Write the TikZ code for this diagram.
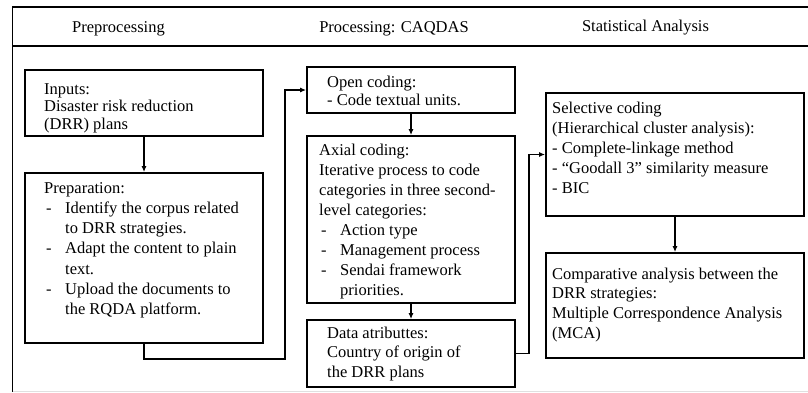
\documentclass[tikz,border=0pt]{standalone}
\usepackage{fontspec}
\setmainfont{Liberation Serif}
\usetikzlibrary{arrows.meta}

% list lines: a dash with hanging text, and continuation lines
\newcommand\dashitem[1]{\makebox[21pt][l]{\hspace*{2pt}-}#1}
\newcommand\dashcont[1]{\hspace*{21pt}#1}

\tikzset{
  stagebox/.style={draw, line width=1.8pt, inner sep=0pt, rectangle},
  boxtext/.style={anchor=north west, inner sep=0pt, align=left,
    font=\fontsize{16.5}{#1}\selectfont},
  boxtext/.default=20,
  head/.style={anchor=base, inner sep=0pt, font=\fontsize{16.5}{20}\selectfont},
  conn/.style={line width=1.5pt, -{Latex[length=6pt,width=5pt]}},
  link/.style={line width=1.5pt},
}

\begin{document}
\begin{tikzpicture}[x=1pt, y=-1pt]
\useasboundingbox (0,0) rectangle (808,392);

% outer frame with the header band
\draw[line width=1.2pt] (12.5,7) -- (808,7);
\draw[line width=2.4pt] (12.5,46) -- (808,46);
\draw[line width=1.6pt] (12.5,6.4) -- (12.5,392);
\draw[line width=1pt, black!12] (12.5,391.5) -- (808,391.5);

% column headers
\node[head] (hpre)  at (118.5,32) {Preprocessing};
\node[head] (hproc) at (394,32)   {Processing: CAQDAS};
\node[head] (hstat) at (645.5,31) {Statistical Analysis};

% boxes
\node[stagebox, minimum width=238pt, minimum height=66pt]  (inputs) at (144,103)   {};
\node[stagebox, minimum width=238pt, minimum height=170pt] (prep)   at (144,258)   {};
\node[stagebox, minimum width=208pt, minimum height=46pt]  (open)   at (411,90)    {};
\node[stagebox, minimum width=208pt, minimum height=167pt] (axial)  at (411,219.5) {};
\node[stagebox, minimum width=208pt, minimum height=67pt]  (data)   at (411,353.5) {};
\node[stagebox, minimum width=258pt, minimum height=123pt] (sel)    at (675,154.5) {};
\node[stagebox, minimum width=258pt, minimum height=105pt] (comp)   at (675,305.5) {};

% box texts
\node[boxtext=17.5] (inputsT) at (44,81.75) {\strut Inputs:\\Disaster risk reduction\\(DRR) plans};
\node[boxtext=20.2] (prepT) at (44,178.9) {\strut Preparation:\\
  \dashitem{Identify the corpus related}\\
  \dashcont{to DRR strategies.}\\
  \dashitem{Adapt the content to plain}\\
  \dashcont{text.}\\
  \dashitem{Upload the documents to}\\
  \dashcont{the RQDA platform.}};
\node[boxtext=18] (openT) at (327,74.7) {\strut Open coding:\\- Code textual units.};
\node[boxtext=20] (axialT) at (319,141) {\strut Axial coding:\\
  Iterative process to code\\
  categories in three second-\\
  level categories:\\
  \dashitem{Action type}\\
  \dashitem{Management process}\\
  \dashitem{Sendai framework}\\
  \dashcont{priorities.}};
\node[boxtext=19.5] (dataT) at (327,324.35) {\strut Data atributtes:\\Country of origin of\\the DRR plans};
\node[boxtext=20] (selT) at (552,99) {\strut Selective coding\\
  (Hierarchical cluster analysis):\\
  - Complete-linkage method\\
  - “Goodall 3” similarity measure\\
  - BIC};
\node[boxtext=19.7] (compT) at (552,265.2) {\strut Comparative analysis between the\\
  DRR strategies:\\
  Multiple Correspondence Analysis\\
  (MCA)};

% connectors
\coordinate (bendA) at (285,359);
\coordinate (bendB) at (529,353.5);
\draw[conn] (inputs) -- (prep);
\draw[conn] (prep.south) |- (bendA) |- (open.west);
\draw[conn] (open) -- (axial);
\draw[conn] (axial) -- (data);
\draw[conn] (data.east) -- (bendB) |- (sel.west);
\draw[conn] (sel) -- (comp);
\end{tikzpicture}
\end{document}
